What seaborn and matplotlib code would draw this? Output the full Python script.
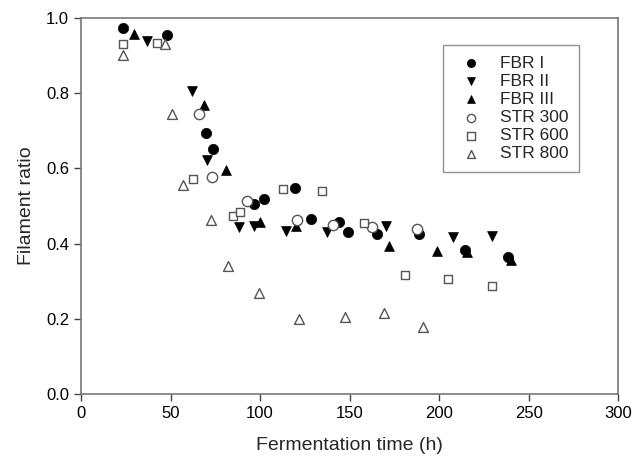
import pandas as pd
import matplotlib
matplotlib.use('Agg')
import matplotlib.pyplot as plt
import seaborn as sns

# Dữ liệu
fbr1_t = [23.3, 47.9, 69.8, 73.9, 96.8, 102.2, 119.6, 128.3, 143.8, 149.3, 165.2, 189.0, 214.5, 238.2]
fbr1_r = [0.975, 0.955, 0.695, 0.652, 0.504, 0.518, 0.547, 0.465, 0.458, 0.432, 0.425, 0.426, 0.383, 0.364]

fbr2_t = [37.0, 61.8, 70.6, 88.5, 96.8, 114.4, 137.2, 170.2, 207.5, 229.4]
fbr2_r = [0.940, 0.807, 0.622, 0.445, 0.447, 0.434, 0.432, 0.447, 0.418, 0.420]

fbr3_t = [29.8, 68.7, 81.0, 100.0, 120.0, 172.0, 198.7, 215.5, 240.0]
fbr3_r = [0.957, 0.770, 0.596, 0.458, 0.447, 0.394, 0.381, 0.377, 0.357]

str300_t = [66.1, 73.4, 92.9, 120.5, 140.6, 162.4, 187.5]
str300_r = [0.746, 0.576, 0.513, 0.463, 0.449, 0.445, 0.439]

str600_t = [23.3, 42.6, 62.4, 84.7, 88.8, 113.0, 134.8, 158.1, 181.0, 205.2, 229.4]
str600_r = [0.930, 0.933, 0.572, 0.473, 0.485, 0.544, 0.540, 0.454, 0.316, 0.305, 0.288]

str800_t = [23.6, 46.9, 50.7, 57.2, 72.6, 82.3, 99.6, 121.8, 147.5, 169.3, 191.2]
str800_r = [0.902, 0.930, 0.746, 0.556, 0.463, 0.341, 0.268, 0.199, 0.204, 0.215, 0.179]

series = [
    ('FBR I', fbr1_t, fbr1_r, 'o', True),
    ('FBR II', fbr2_t, fbr2_r, 'v', True),
    ('FBR III', fbr3_t, fbr3_r, '^', True),
    ('STR 300', str300_t, str300_r, 'o', False),
    ('STR 600', str600_t, str600_r, 's', False),
    ('STR 800', str800_t, str800_r, '^', False),
]

sns.set_style('ticks')
plt.rcParams['font.family'] = ['Liberation Sans', 'DejaVu Sans']

fig, ax = plt.subplots(figsize=(6.38, 4.66), dpi=100)
fig.subplots_adjust(left=0.127, right=0.969, top=0.961, bottom=0.155)

for name, t, r, m, filled in series:
    df = pd.DataFrame({'t': t, 'r': r})
    size = 55 if m == 'o' else 50
    if m == 's':
        size = 40
    if filled:
        sns.scatterplot(data=df, x='t', y='r', marker=m, s=size, color='black',
                        edgecolor='black', linewidth=0.5, label=name, ax=ax, zorder=3)
    else:
        sns.scatterplot(data=df, x='t', y='r', marker=m, s=size, color='white',
                        edgecolor='#555555', linewidth=1.0, label=name, ax=ax, zorder=4)

ax.set_xlim(0, 300)
ax.set_ylim(0, 1.0)
ax.set_xticks([0, 50, 100, 150, 200, 250, 300])
ax.set_yticks([0.0, 0.2, 0.4, 0.6, 0.8, 1.0])
ax.set_yticklabels(['0.0', '0.2', '0.4', '0.6', '0.8', '1.0'])
ax.tick_params(direction='out', length=5, width=1, colors='#444444', labelsize=12,
               labelcolor='black')
for sp in ax.spines.values():
    sp.set_visible(True)
    sp.set_color('#777777')
    sp.set_linewidth(1.2)

ax.set_xlabel('Fermentation time (h)', fontsize=14, labelpad=12)
ax.set_ylabel('Filament ratio', fontsize=14, labelpad=8)

leg = ax.legend(loc='upper right', bbox_to_anchor=(0.927, 0.928), fontsize=12.5,
                frameon=True, fancybox=False, edgecolor='#777777', borderpad=0.6,
                handletextpad=0.7, labelspacing=0.17, borderaxespad=0.0,
                markerscale=0.8)
leg.get_frame().set_linewidth(1.0)

fig.savefig('out.png', dpi=100)
